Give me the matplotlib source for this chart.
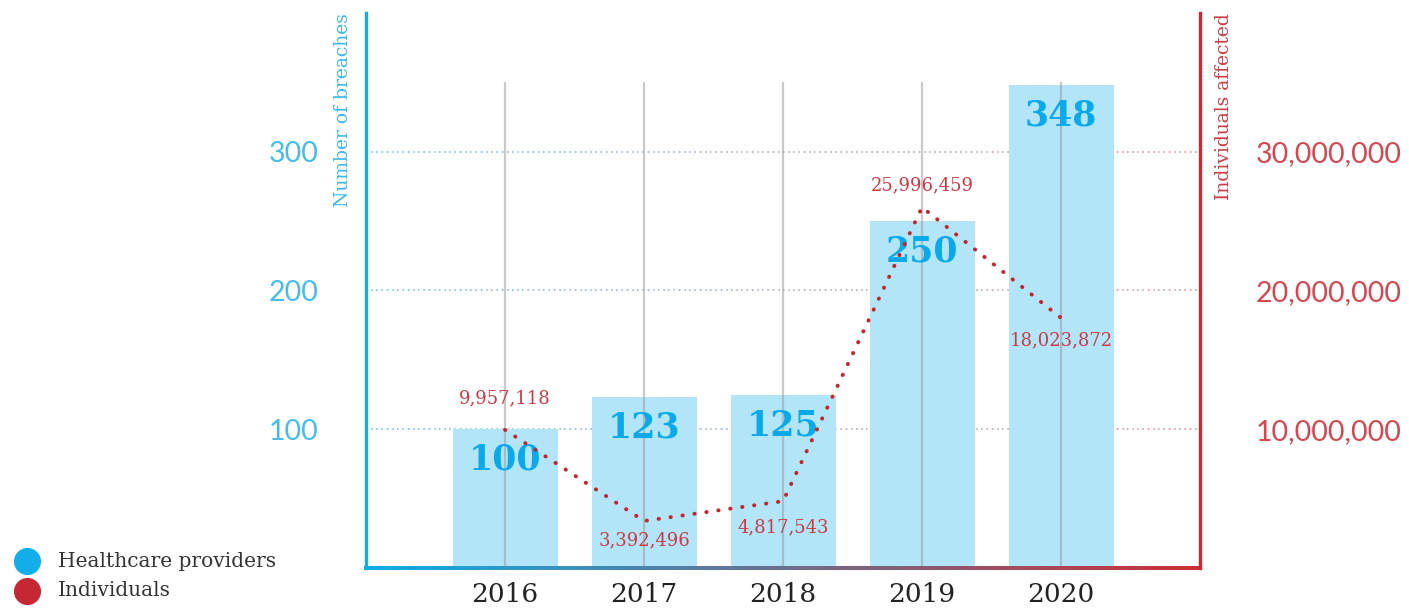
#Breaches by healthcare providers and individuals affected, 2016-2020
import matplotlib.pyplot as plt
import numpy as np
from matplotlib.collections import LineCollection
from matplotlib.lines import Line2D
from matplotlib.colors import to_rgb

years = ["2016", "2017", "2018", "2019", "2020"]
breaches = [100, 123, 125, 250, 348]
individuals = [9957118, 3392496, 4817543, 25996459, 18023872]
leftTicks = [100, 200, 300]
rightTicks = [10000000, 20000000, 30000000]

blue = "#12aee8"
red = "#c62a35"
barBlue = "#b3e5f8"
labelRed = "#cc3a45"
serif = ["DejaVu Serif"]

fig = plt.figure(figsize=(14.09, 6.09), dpi=100)
ax = fig.add_axes([0.2598, 0.0673, 0.5919, 0.9114])
ax2 = ax.twinx()

x = np.arange(len(years))
ax.set_xlim(-1, 5)
ax.set_ylim(0, 400)
ax2.set_ylim(0, 40000000)

#bars
ax.bar(x, breaches, width=0.755, color=barBlue, zorder=2)

#vertical gray lines through each bar
ax.vlines(x, 0, 350, color="#969696", alpha=0.5, lw=1.6, zorder=3)

#horizontal dotted grid, blue on the left fading to red on the right
def gradColors(c1, c2, n):
    a = np.array(to_rgb(c1))
    b = np.array(to_rgb(c2))
    t = np.linspace(0, 1, n)[:, None]
    return a + (b - a) * t

n = 80
xs = np.linspace(-1, 5, n + 1)
for yv in leftTicks:
    segs = [[(xs[i], yv), (xs[i + 1], yv)] for i in range(n)]
    lc = LineCollection(segs, colors=gradColors("#5cc2ec", "#dc8c90", n),
                        linestyles=(0, (1, 2.5)), linewidths=1.1, zorder=1)
    ax.add_collection(lc)

#bottom axis line with gradient
m = 300
xb = np.linspace(-1, 5, m + 1)
segs = [[(xb[i], 0), (xb[i + 1], 0)] for i in range(m)]
lc = LineCollection(segs, colors=gradColors("#0aaee6", "#cc2f36", m),
                    linewidths=2.6, zorder=5, clip_on=False, capstyle="projecting",
                    antialiaseds=False)
ax.add_collection(lc)

#bar labels
for i, v in enumerate(breaches):
    ax.annotate(str(v), (i, v), xytext=(0, -22), textcoords="offset points",
                ha="center", va="center", fontsize=25, fontweight="bold",
                family=serif, color="#0aa9e9", zorder=4)

#individuals line
ax2.plot(x, individuals, color="#c0262e", lw=2.8,
         linestyle=(0, (0.1, 3.0)), dash_capstyle="round", zorder=6)
offsets = [23, -14, -19, 16, -16]
for i, v in enumerate(individuals):
    ax2.annotate(f"{v:,}", (i, v), xytext=(0, offsets[i]), textcoords="offset points",
                 ha="center", va="center", fontsize=13, family=serif, color=labelRed)

#axes styling
for s in ["top", "right", "bottom"]:
    ax.spines[s].set_visible(False)
for s in ["top", "left", "bottom"]:
    ax2.spines[s].set_visible(False)
ax.spines["left"].set_color(blue)
ax.spines["left"].set_linewidth(2.4)
ax2.spines["right"].set_color(red)
ax2.spines["right"].set_linewidth(2.4)

ax.set_yticks(leftTicks)
ax.set_yticklabels([str(t) for t in leftTicks])
ax.tick_params(axis="y", length=0, pad=34, labelsize=20.5, labelcolor="#45bcec")
for t in ax.get_yticklabels():
    t.set_family(["Lato", "Roboto"])

ax2.set_yticks(rightTicks)
ax2.set_yticklabels([f"{t:,}" for t in rightTicks])
ax2.tick_params(axis="y", length=0, pad=40, labelsize=20.5, labelcolor="#d24852")
for t in ax2.get_yticklabels():
    t.set_family(["Lato", "Roboto"])

ax.set_xticks(x)
ax.set_xticklabels(years)
ax.tick_params(axis="x", length=0, pad=10, labelsize=19, labelcolor="#222222")
for t in ax.get_xticklabels():
    t.set_family(serif)

ax.text(-0.0276, 1.0, "Number of breaches", transform=ax.transAxes, rotation=90,
        ha="center", va="top", fontsize=13.5, family=serif, color="#3bb8ea")
ax.text(1.0288, 1.0, "Individuals affected", transform=ax.transAxes, rotation=90,
        ha="center", va="top", fontsize=13.5, family=serif, color=labelRed)

#legend
legendItems = [("Healthcare providers", "#12aee9"), ("Individuals", "#c62833")]
legendY = [0.0788, 0.0296]
for (name, col), yy in zip(legendItems, legendY):
    fig.add_artist(Line2D([0.0192], [yy], transform=fig.transFigure, marker="o",
                          ms=18.5, color=col, lw=0))
    fig.text(0.0412, yy, name, ha="left", va="center", fontsize=14.5,
             family=serif, color="#333333")

plt.savefig("out.png", dpi=100)
